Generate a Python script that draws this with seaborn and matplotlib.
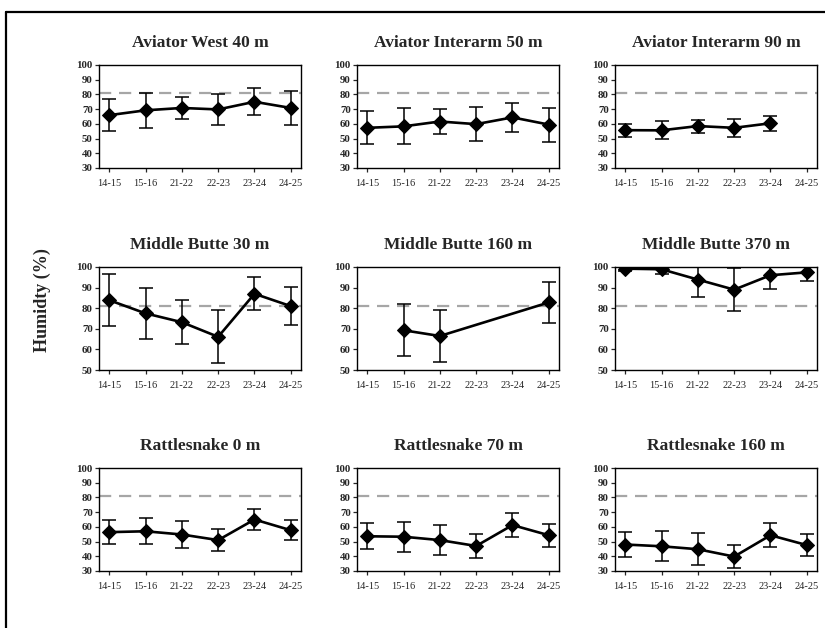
import numpy as np
import pandas as pd
import matplotlib
matplotlib.use("Agg")
import matplotlib.pyplot as plt
from matplotlib.lines import Line2D
import seaborn as sns

sns.set_style("ticks")
plt.rcParams["font.family"] = ["Liberation Serif", "DejaVu Serif"]

seasons = ["14-15", "15-16", "21-22", "22-23", "23-24", "24-25"]
nan = np.nan

titles = [
    "Aviator West 40 m", "Aviator Interarm 50 m", "Aviator Interarm 90 m",
    "Middle Butte 30 m", "Middle Butte 160 m", "Middle Butte 370 m",
    "Rattlesnake 0 m", "Rattlesnake 70 m", "Rattlesnake 160 m",
]

# seasonal mean humidity (%) and standard deviation per station
aw40_mean = [65.9, 69.2, 70.8, 69.8, 75.0, 70.8]
aw40_sd = [11.0, 12.0, 7.6, 10.5, 9.2, 11.5]

ai50_mean = [57.3, 58.3, 61.6, 59.8, 64.4, 59.5]
ai50_sd = [11.3, 12.3, 8.4, 11.5, 9.9, 11.6]

ai90_mean = [55.7, 55.6, 58.5, 57.3, 60.4, nan]
ai90_sd = [4.5, 6.2, 4.4, 5.9, 5.0, nan]

mb30_mean = [83.9, 77.5, 73.2, 66.1, 87.0, 81.0]
mb30_sd = [12.5, 12.4, 10.7, 12.8, 8.1, 9.2]

mb160_mean = [nan, 69.3, 66.5, nan, nan, 82.8]
mb160_sd = [nan, 12.6, 12.5, nan, nan, 10.1]

mb370_mean = [99.2, 98.9, 93.9, 89.0, 96.0, 97.4]
mb370_sd = [1.2, 2.5, 8.5, 10.5, 6.5, 4.0]

rs0_mean = [56.4, 57.0, 54.8, 51.0, 65.0, 57.7]
rs0_sd = [8.0, 8.8, 9.3, 7.3, 6.9, 6.9]

rs70_mean = [53.6, 53.3, 51.0, 47.0, 61.2, 54.3]
rs70_sd = [8.8, 10.2, 10.4, 7.9, 8.2, 7.7]

rs160_mean = [48.0, 46.8, 44.8, 39.8, 54.3, 47.6]
rs160_sd = [8.5, 10.3, 10.8, 7.6, 8.1, 7.7]

threshold = 81

series = [
    (aw40_mean, aw40_sd), (ai50_mean, ai50_sd), (ai90_mean, ai90_sd),
    (mb30_mean, mb30_sd), (mb160_mean, mb160_sd), (mb370_mean, mb370_sd),
    (rs0_mean, rs0_sd), (rs70_mean, rs70_sd), (rs160_mean, rs160_sd),
]
row_ylim = [(30, 100), (50, 100), (30, 100)]

W, H = 825, 628
fig = plt.figure(figsize=(W / 100, H / 100), dpi=100)

col_left = [99, 357, 615]
row_top = [65, 267, 468]
ax_w, ax_h = 202, 103

for i, (title, (m, sd)) in enumerate(zip(titles, series)):
    r, c = divmod(i, 3)
    ax = fig.add_axes([col_left[c] / W, 1 - (row_top[r] + ax_h) / H, ax_w / W, ax_h / H])
    df = pd.DataFrame({"pos": np.arange(len(seasons)), "mean": m, "sd": sd}).dropna()

    ax.axhline(threshold, color="#a6a6a6", lw=1.6, ls=(0, (5.5, 3.5)), zorder=1)
    ax.errorbar(df["pos"], df["mean"], yerr=df["sd"], fmt="none", ecolor="black",
                elinewidth=1.1, capsize=4.8, capthick=1.1, zorder=2)
    sns.lineplot(data=df, x="pos", y="mean", ax=ax, color="black", lw=1.9,
                 marker="D", markersize=7, markeredgecolor="black", zorder=3)

    lo, hi = row_ylim[r]
    ax.set_ylim(lo, hi)
    ax.set_yticks(np.arange(lo, hi + 1, 10))
    ax.set_xlim(-0.28, 5.28)
    ax.set_xticks(range(len(seasons)))
    ax.set_xticklabels(seasons)
    ax.set_xlabel("")
    ax.set_ylabel("")
    ax.tick_params(axis="x", labelsize=7.5, length=3, width=0.9, pad=5)
    ax.tick_params(axis="y", labelsize=7.8, length=3, width=0.9, pad=1.5)
    for lab in ax.get_yticklabels():
        lab.set_fontweight("bold")
    for s in ax.spines.values():
        s.set_visible(True)
        s.set_linewidth(1.0)
        s.set_color("black")
    ax.set_title(title, fontsize=12.5, fontweight="bold", pad=13)

fig.text(42 / W, 1 - 300 / H, "Humidty (%)", rotation=90, ha="center", va="center",
         fontsize=13, fontweight="bold")

# outer frame along the top and left edges
fig.add_artist(Line2D([6 / W, 1], [1 - 12 / H, 1 - 12 / H], transform=fig.transFigure,
                      color="black", lw=1.6))
fig.add_artist(Line2D([6 / W, 6 / W], [0, 1 - 12 / H], transform=fig.transFigure,
                      color="black", lw=1.6))

fig.savefig("out.png", dpi=100, facecolor="white")
